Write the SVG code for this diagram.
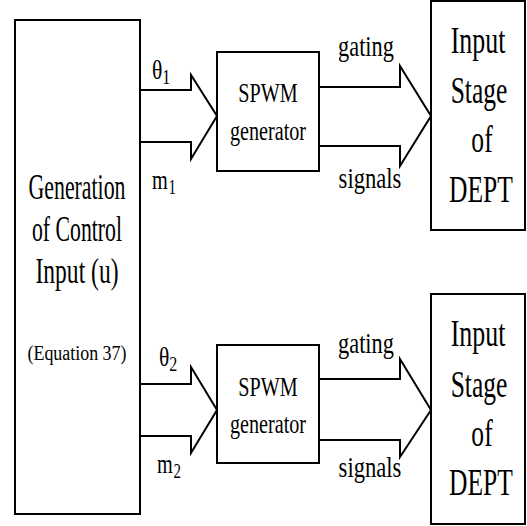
<svg xmlns="http://www.w3.org/2000/svg" width="527" height="526" viewBox="0 0 527 526">
<style>
.box{fill:#fff;stroke:#000;stroke-width:2}
.arr{fill:none;stroke:#000;stroke-width:2;stroke-linejoin:miter}
text{font-family:"Liberation Serif","Times New Roman",serif;fill:#000}
.big{font-size:35px}
.dep{font-size:37px}
.mid{font-size:28px}
.sm{font-size:20px}
.lab{font-size:27px}
.gr{font-size:29px}
.sub{font-size:20px}
</style>
<rect width="527" height="526" fill="#fff"/>
<g id="gen">
<rect class="box" x="15" y="20" width="125" height="494"/>
<text class="big" x="77" y="199" text-anchor="middle" textLength="97" lengthAdjust="spacingAndGlyphs">Generation</text>
<text class="big" x="77" y="241" text-anchor="middle" textLength="90" lengthAdjust="spacingAndGlyphs">of Control</text>
<text class="big" x="77" y="283" text-anchor="middle" textLength="83" lengthAdjust="spacingAndGlyphs">Input (u)</text>
<text class="sm" x="77" y="360" text-anchor="middle" textLength="99" lengthAdjust="spacingAndGlyphs">(Equation 37)</text>
</g>
<g id="spwm1">
<rect class="box" x="217" y="52" width="102" height="119"/>
<text class="mid" transform="translate(268,102) scale(0.72,1)" text-anchor="middle">SPWM</text>
<text class="mid" transform="translate(268,140) scale(0.72,1)" text-anchor="middle">generator</text>
</g>
<g id="spwm2">
<rect class="box" x="217" y="345" width="102" height="118"/>
<text class="mid" transform="translate(268,396) scale(0.72,1)" text-anchor="middle">SPWM</text>
<text class="mid" transform="translate(268,433) scale(0.72,1)" text-anchor="middle">generator</text>
</g>
<g id="dept1">
<rect class="box" x="431" y="1" width="94" height="229"/>
<text class="dep" transform="translate(478,53) scale(0.7,1)" text-anchor="middle">Input</text>
<text class="dep" transform="translate(479,103) scale(0.69,1)" text-anchor="middle">Stage</text>
<text class="dep" transform="translate(482,152) scale(0.69,1)" text-anchor="middle">of</text>
<text class="dep" transform="translate(481,202) scale(0.69,1)" text-anchor="middle">DEPT</text>
</g>
<g id="dept2">
<rect class="box" x="431" y="294" width="94" height="230"/>
<text class="dep" transform="translate(478,346) scale(0.7,1)" text-anchor="middle">Input</text>
<text class="dep" transform="translate(479,397) scale(0.69,1)" text-anchor="middle">Stage</text>
<text class="dep" transform="translate(482,446) scale(0.69,1)" text-anchor="middle">of</text>
<text class="dep" transform="translate(481,495) scale(0.69,1)" text-anchor="middle">DEPT</text>
</g>
<g id="connectors">
<polyline class="arr" points="140,90 191,90 191,75 217,116 191,159 191,142 140,142"/>
<polyline class="arr" points="319,87 400,87 400,66 431,116 400,166 400,146 319,146"/>
<polyline class="arr" points="140,384 191,384 191,367 217,410 191,453 191,436 140,436"/>
<polyline class="arr" points="319,379 400,379 400,359 431,410 400,457 400,440 319,440"/>
<text class="lab" transform="translate(152,79) scale(0.8,1)">θ<tspan class="sub" dy="5">1</tspan></text>
<text class="lab" transform="translate(152,189) scale(0.75,1)">m<tspan class="sub" dx="1" dy="5">1</tspan></text>
<text class="lab" transform="translate(159,366) scale(0.8,1)">θ<tspan class="sub" dy="5">2</tspan></text>
<text class="lab" transform="translate(157,473) scale(0.75,1)">m<tspan class="sub" dx="1" dy="5">2</tspan></text>
<text class="gr" transform="translate(366,56) scale(0.77,1)" text-anchor="middle">gating</text>
<text class="gr" transform="translate(370,188) scale(0.78,1)" text-anchor="middle">signals</text>
<text class="gr" transform="translate(366,353) scale(0.77,1)" text-anchor="middle">gating</text>
<text class="gr" transform="translate(370,477) scale(0.78,1)" text-anchor="middle">signals</text>
</g>
</svg>
